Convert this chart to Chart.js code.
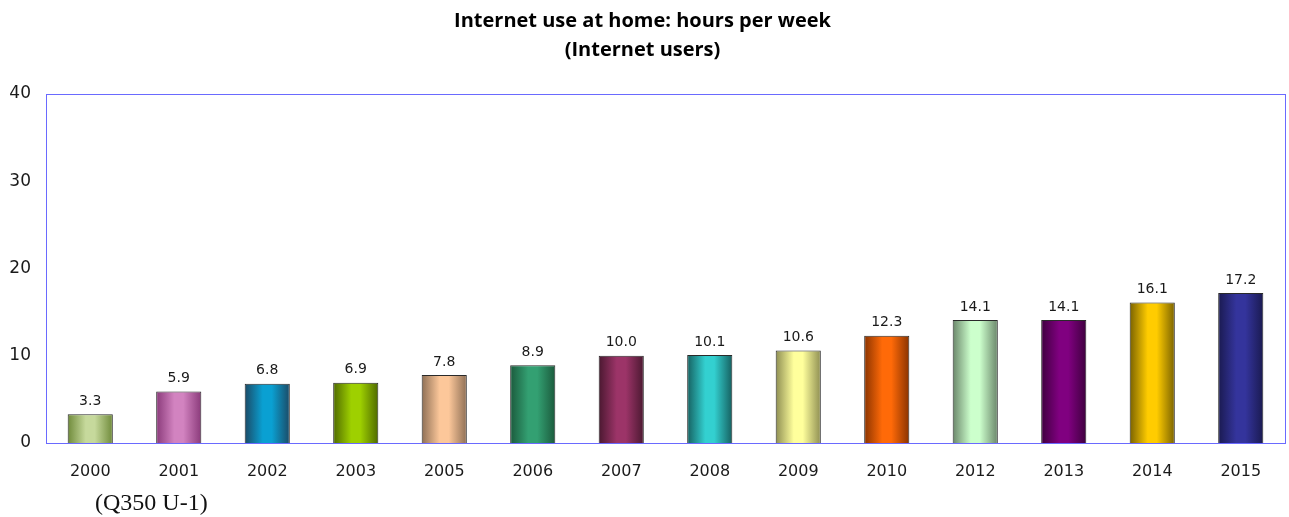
<!DOCTYPE html>
<html>
<head>
<meta charset="utf-8">
<script src="https://cdn.jsdelivr.net/npm/chart.js@4.4.1/dist/chart.umd.min.js"></script>
<style>
  html, body { margin: 0; padding: 0; background: #fff; }
  #wrap { position: relative; width: 1289px; height: 517px; }
  #note { position: absolute; left: 95px; top: 490px; font-family: "Liberation Serif", serif; font-size: 24px; line-height: 24px; color: #111; }
</style>
</head>
<body>
<div id="wrap">
  <canvas id="chart" width="1289" height="517"></canvas>
  <div id="note">(Q350 U-1)</div>
</div>
<script>
// data
const years = ['2000','2001','2002','2003','2005','2006','2007','2008','2009','2010','2012','2013','2014','2015'];
const hours = [3.3, 5.9, 6.8, 6.9, 7.8, 8.9, 10.0, 10.1, 10.6, 12.3, 14.1, 14.1, 16.1, 17.2];
const yTicks = [0, 10, 20, 30, 40];
// bar colours: [edge, centre]
const barEdge = ['#6f8a3a','#8a3a7a','#1b4a66','#4f6a00','#8e6f55','#1b5a3c','#4a1830','#166060','#8e8e52','#8a3300','#6a866a','#3e003e','#7a6200','#1a1a50'];
const barMid  = ['#c6d99c','#d283c0','#0aa0d2','#9ed000','#fcc79a','#33a072','#9c3468','#33d0d0','#ffff9c','#ff6a08','#ccffcc','#800080','#ffcc00','#34349c'];

const barPct = 0.51;

function barGradient(ctx) {
  const chart = ctx.chart;
  const xs = chart.scales.x;
  if (!xs || !chart.chartArea) return barMid[ctx.dataIndex];
  const cx = xs.getPixelForValue(ctx.dataIndex);
  const w = (xs.width / years.length) * barPct;
  const g = chart.ctx.createLinearGradient(cx - w / 2, 0, cx + w / 2, 0);
  g.addColorStop(0, barEdge[ctx.dataIndex]);
  g.addColorStop(0.4, barMid[ctx.dataIndex]);
  g.addColorStop(0.6, barMid[ctx.dataIndex]);
  g.addColorStop(1, barEdge[ctx.dataIndex]);
  return g;
}

const frame = {
  id: 'frame',
  afterDraw(chart) {
    const a = chart.chartArea, c = chart.ctx;
    c.save();
    c.strokeStyle = '#6a6aff';
    c.lineWidth = 1;
    c.strokeRect(Math.round(a.left) + 0.5, Math.round(a.top) + 0.5, Math.round(a.right - a.left), Math.round(a.bottom - a.top));
    c.restore();
  }
};

const valueLabels = {
  id: 'valueLabels',
  afterDatasetsDraw(chart) {
    const c = chart.ctx;
    const meta = chart.getDatasetMeta(0);
    c.save();
    c.font = '14px "DejaVu Sans"';
    c.fillStyle = '#1a1a1a';
    c.textAlign = 'center';
    c.textBaseline = 'bottom';
    meta.data.forEach(function(bar, i) {
      c.fillText(hours[i].toFixed(1), bar.x, bar.y - 6);
    });
    c.restore();
  }
};

new Chart(document.getElementById('chart'), {
  type: 'bar',
  data: {
    labels: years,
    datasets: [{
      data: hours,
      backgroundColor: barGradient,
      borderColor: '#2a2a2a',
      borderWidth: 1,
      barPercentage: barPct,
      categoryPercentage: 1
    }]
  },
  options: {
    responsive: false,
    animation: false,
    layout: { padding: { left: 0, right: 4, top: 0, bottom: 0 } },
    plugins: {
      legend: { display: false },
      tooltip: { enabled: false },
      title: {
        display: true,
        text: ['Internet use at home: hours per week', '(Internet users)'],
        color: '#000',
        font: { family: '"Open Sans"', size: 20, weight: 'bold', lineHeight: 1.45 },
        padding: { top: 7, bottom: 29 }
      }
    },
    scales: {
      x: {
        grid: { display: false },
        border: { color: '#6a6aff' },
        ticks: { color: '#1a1a1a', font: { family: '"DejaVu Sans"', size: 16 }, padding: 11, maxRotation: 0 },
        afterFit(s) { s.height = 74; }
      },
      y: {
        min: 0,
        max: 40,
        afterBuildTicks(s) { s.ticks = yTicks.map(v => ({ value: v })); },
        grid: { display: false },
        border: { color: '#6a6aff' },
        ticks: { color: '#1a1a1a', font: { family: '"DejaVu Sans"', size: 17 }, padding: 7 },
        afterFit(s) { s.width = 46; }
      }
    }
  },
  plugins: [frame, valueLabels]
});
</script>
</body>
</html>
